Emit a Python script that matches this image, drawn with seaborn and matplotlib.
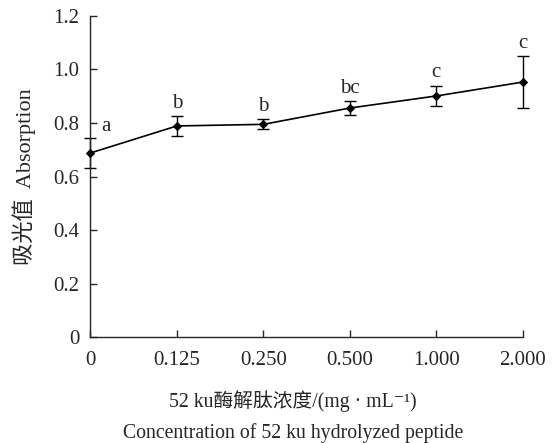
import numpy as np
import pandas as pd
import matplotlib
matplotlib.use("Agg")
import matplotlib.pyplot as plt
import seaborn as sns

# data
conc_labels = ["0", "0.125", "0.250", "0.500", "1.000", "2.000"]
absorption = [0.688, 0.789, 0.795, 0.856, 0.901, 0.953]
err = [0.055, 0.037, 0.019, 0.025, 0.039, 0.097]
letters = ["a", "b", "b", "bc", "c", "c"]

sns.set_style("ticks")
plt.rcParams["font.family"] = ["Liberation Serif", "Noto Sans CJK SC", "DejaVu Serif"]

df = pd.DataFrame({"pos": np.arange(len(conc_labels)), "abs": absorption, "err": err})

fig = plt.figure(figsize=(5.58, 4.43), dpi=100)
ax = fig.add_axes([0.162, 0.239, 0.775, 0.725])

ax.errorbar(df["pos"], df["abs"], yerr=df["err"], fmt="none", ecolor="black",
            elinewidth=1.0, capsize=4, capthick=1.0, zorder=2, clip_on=False)
sns.lineplot(data=df, x="pos", y="abs", color="black", linewidth=1.2,
             marker="D", markersize=4.5, markeredgecolor="black", ax=ax,
             zorder=3, clip_on=False)

for i, (v, e, t) in enumerate(zip(absorption, err, letters)):
    if i == 0:
        ax.text(i + 0.13, v + 0.065, t, ha="left", va="bottom", fontsize=15)
    else:
        ax.text(i, v + e + 0.012, t, ha="center", va="bottom", fontsize=15)

ax.set_xlim(0, len(conc_labels) - 1)
ax.set_ylim(0, 1.2)
ax.set_xticks(df["pos"])
ax.set_xticklabels(conc_labels)
ax.set_yticks([0, 0.2, 0.4, 0.6, 0.8, 1.0, 1.2])
ax.set_yticklabels(["0", "0.2", "0.4", "0.6", "0.8", "1.0", "1.2"])
ax.tick_params(direction="in", length=5, width=1, labelsize=15, pad=8)
ax.tick_params(axis="x", pad=10)
sns.despine(ax=ax)
for s in ["left", "bottom"]:
    ax.spines[s].set_linewidth(1.0)

ax.set_xlabel("52 ku酶解肽浓度/(mg · mL⁻¹)\nConcentration of 52 ku hydrolyzed peptide",
              fontsize=14.2, linespacing=1.75)
ax.xaxis.set_label_coords(0.469, -0.166, transform=ax.transAxes)
ax.xaxis.label.set_va("top")
ax.set_ylabel("吸光值  Absorption", fontsize=16, labelpad=12)

fig.savefig("out.png", dpi=100)
